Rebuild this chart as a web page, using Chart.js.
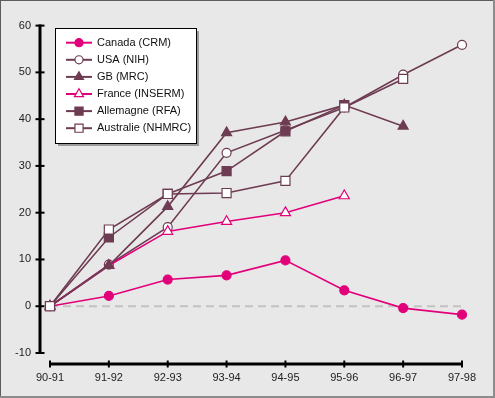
<!DOCTYPE html>
<html>
<head>
<meta charset="utf-8">
<script src="https://cdn.jsdelivr.net/npm/chart.js@4/dist/chart.umd.min.js"></script>
<style>
  html, body { margin: 0; padding: 0; background: #e8e8e8; }
  #wrap { width: 495px; height: 398px; position: relative; }
</style>
</head>
<body>
<div id="wrap"><canvas id="chart"></canvas></div>
<script>
// periodes (axe X)
const years = ['90-91', '91-92', '92-93', '93-94', '94-95', '95-96', '96-97', '97-98'];
const yTicks = [-10, 0, 10, 20, 30, 40, 50, 60];

// series
const canada = [0, 2.2, 5.7, 6.6, 9.8, 3.4, -0.4, -1.8];
const usa = [0, 8.9, 16.9, 32.8, 37.6, 42.5, 49.5, 55.9];
const gb = [0, 8.7, 21.3, 37.1, 39.4, 43.0, 38.5, null];
const france = [0, 8.7, 16.0, 18.1, 20.0, 23.6, null, null];
const allemagne = [0, 14.7, 24.0, 28.9, 37.4, 43.0, null, null];
const australie = [0, 16.4, 24.0, 24.2, 26.8, 42.5, 48.6, null];

const labels = ['Canada (CRM)', 'USA (NIH)', 'GB (MRC)', 'France (INSERM)', 'Allemagne (RFA)', 'Australie (NHMRC)'];

const PINK = '#e2007a';
const MAUVE = '#6e3c52';
const FONT = '"Liberation Sans", Arial, Helvetica, sans-serif';

function makeSet(label, data, color, style, filled, radius, order) {
  return {
    label: label,
    data: data,
    borderColor: color,
    backgroundColor: filled ? color : '#ffffff',
    pointBackgroundColor: filled ? color : '#ffffff',
    pointBorderColor: color,
    pointStyle: style,
    pointRadius: radius,
    pointBorderWidth: 1.2,
    borderWidth: 1.6,
    tension: 0,
    order: order,
  };
}

const datasets = [
  makeSet(labels[0], canada, PINK, 'circle', true, 4.5, 6),
  makeSet(labels[1], usa, MAUVE, 'circle', false, 4.5, 5),
  makeSet(labels[2], gb, MAUVE, 'triangle', true, 5.8, 2),
  makeSet(labels[3], france, PINK, 'triangle', false, 5.8, 4),
  makeSet(labels[4], allemagne, MAUVE, 'rect', true, 6.4, 3),
  makeSet(labels[5], australie, MAUVE, 'rect', false, 6.4, 1),
];

function marker(ctx, style, r, x, y) {
  ctx.beginPath();
  if (style === 'circle') {
    ctx.arc(x, y, r, 0, Math.PI * 2);
  } else if (style === 'rect') {
    const s = r * Math.SQRT1_2;
    ctx.rect(x - s, y - s, 2 * s, 2 * s);
  } else {
    ctx.moveTo(x, y - r);
    ctx.lineTo(x + r * 0.866, y + r / 2);
    ctx.lineTo(x - r * 0.866, y + r / 2);
    ctx.closePath();
  }
  ctx.fill();
  ctx.stroke();
}

// fond + cadre
const framePlugin = {
  id: 'frame',
  beforeDraw(chart) {
    const ctx = chart.ctx;
    const w = chart.width, h = chart.height;
    ctx.save();
    ctx.fillStyle = '#e8e8e8';
    ctx.fillRect(0, 0, w, h);
    ctx.fillStyle = '#5c5c5c';
    ctx.fillRect(0, 0, w, 1);
    ctx.fillRect(0, 0, 1, h);
    ctx.fillStyle = '#8c8c8c';
    ctx.fillRect(w - 2, 0, 2, h);
    ctx.fillRect(0, h - 2, w, 2);
    ctx.restore();
  },
};

// axes detaches + ligne du zero
const axesPlugin = {
  id: 'axes',
  beforeDatasetsDraw(chart) {
    const ctx = chart.ctx;
    const x = chart.scales.x, y = chart.scales.y;
    const x0 = x.getPixelForValue(0), x1 = x.getPixelForValue(years.length - 1);
    ctx.save();
    // ligne pointillee a 0
    const yz = y.getPixelForValue(0);
    ctx.strokeStyle = '#c2c2c2';
    ctx.lineWidth = 2;
    ctx.setLineDash([8, 5]);
    ctx.beginPath();
    ctx.moveTo(x0, yz);
    ctx.lineTo(x1, yz);
    ctx.stroke();
    ctx.setLineDash([]);

    ctx.strokeStyle = '#000';
    // axe Y
    const ax = chart.chartArea.left - 10;
    const yTop = y.getPixelForValue(yTicks[yTicks.length - 1]);
    const yBot = y.getPixelForValue(yTicks[0]);
    ctx.lineWidth = 3;
    ctx.beginPath();
    ctx.moveTo(ax, yTop - 1);
    ctx.lineTo(ax, yBot + 1);
    ctx.stroke();
    ctx.lineWidth = 2;
    yTicks.forEach(v => {
      const py = y.getPixelForValue(v);
      ctx.beginPath();
      ctx.moveTo(ax - 4.5, py);
      ctx.lineTo(ax + 4.5, py);
      ctx.stroke();
    });
    // axe X
    const ay = chart.chartArea.bottom + 11;
    ctx.lineWidth = 3;
    ctx.beginPath();
    ctx.moveTo(x0 - 1, ay);
    ctx.lineTo(x1 + 1, ay);
    ctx.stroke();
    ctx.lineWidth = 2;
    years.forEach((lbl, i) => {
      const px = x.getPixelForValue(i);
      ctx.beginPath();
      ctx.moveTo(px, ay - 3.5);
      ctx.lineTo(px, ay + 3.5);
      ctx.stroke();
    });
    ctx.restore();
  },
};

// legende encadree
const legendPlugin = {
  id: 'boxLegend',
  afterDatasetsDraw(chart) {
    const ctx = chart.ctx;
    const bx = 55, by = 28, bw = 141, bh = 115;
    ctx.save();
    ctx.fillStyle = '#9a9a9a';
    ctx.fillRect(bx + 3, by + 3, bw, bh);
    ctx.fillStyle = '#ffffff';
    ctx.fillRect(bx, by, bw, bh);
    ctx.strokeStyle = '#000';
    ctx.lineWidth = 1;
    ctx.strokeRect(bx + 0.5, by + 0.5, bw, bh);

    ctx.font = '11px ' + FONT;
    ctx.textBaseline = 'middle';
    chart.data.datasets.forEach((ds, i) => {
      const ry = 42.7 + i * 17.1;
      ctx.strokeStyle = ds.borderColor;
      ctx.lineWidth = 2;
      ctx.beginPath();
      ctx.moveTo(66, ry);
      ctx.lineTo(92, ry);
      ctx.stroke();
      ctx.fillStyle = ds.pointBackgroundColor;
      ctx.lineWidth = 1.2;
      marker(ctx, ds.pointStyle, ds.pointRadius * 0.9, 79, ry);
      ctx.fillStyle = '#111';
      ctx.fillText(ds.label, 97, ry);
    });
    ctx.restore();
  },
};

new Chart(document.getElementById('chart'), {
  type: 'line',
  data: { labels: years, datasets: datasets },
  options: {
    responsive: true,
    maintainAspectRatio: false,
    animation: false,
    layout: { padding: { left: 0, right: 33, top: 24, bottom: 0 } },
    plugins: { legend: { display: false }, tooltip: { enabled: false } },
    scales: {
      x: {
        type: 'category',
        offset: false,
        grid: { display: false, drawTicks: false },
        border: { display: false },
        ticks: { color: '#222', font: { size: 11, family: FONT }, padding: 18, maxRotation: 0, autoSkip: false },
        afterFit(scale) { scale.height = 45; },
      },
      y: {
        min: -10,
        max: 60,
        grid: { display: false, drawTicks: false },
        border: { display: false },
        ticks: { stepSize: 10, color: '#222', font: { size: 11, family: FONT }, padding: 19 },
        afterFit(scale) { scale.width = 50; },
      },
    },
  },
  plugins: [framePlugin, axesPlugin, legendPlugin],
});
</script>
</body>
</html>
